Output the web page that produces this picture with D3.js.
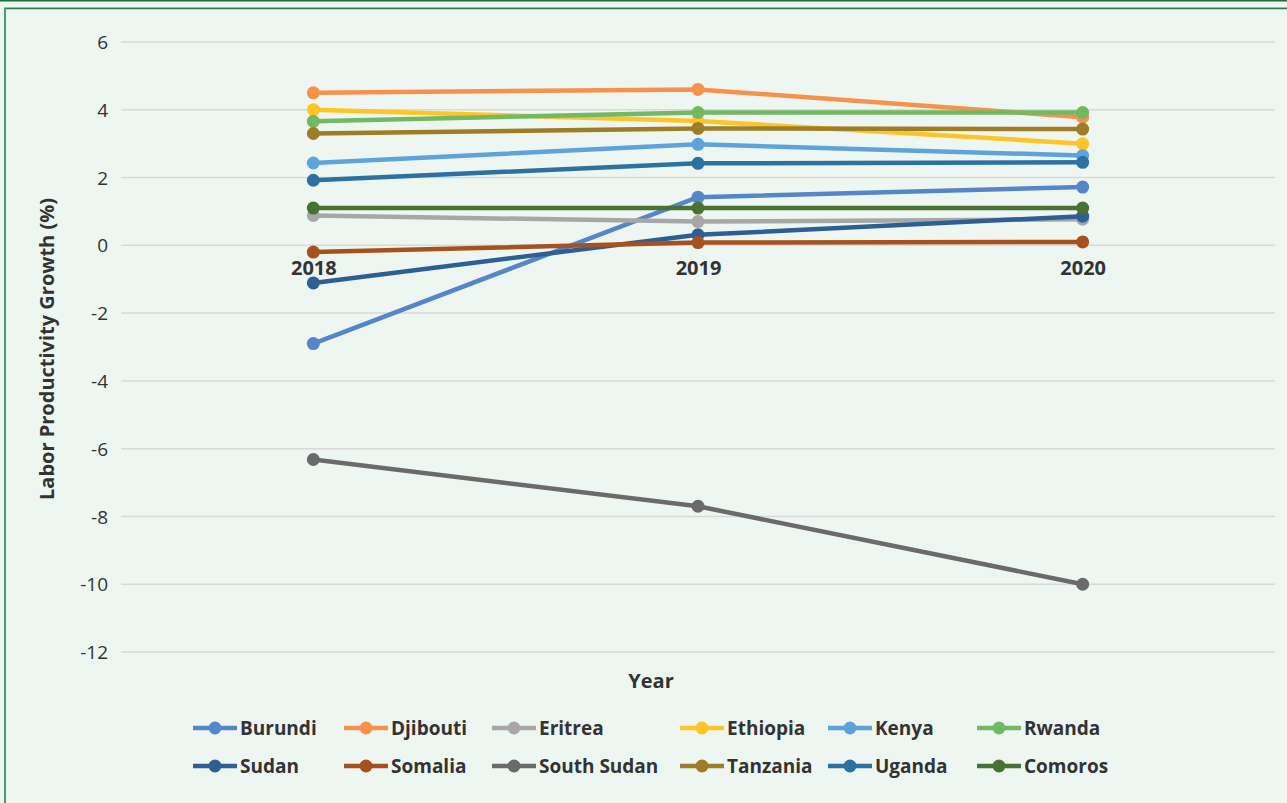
<!DOCTYPE html>
<html>
<head>
<meta charset="utf-8">
<script src="https://cdn.jsdelivr.net/npm/d3@7"></script>
<style>
  html, body { margin: 0; padding: 0; background: #EEF6F1; }
  svg { display: block; }
</style>
</head>
<body>
<svg id="chart" width="1287" height="803"></svg>
<script>
const years = ["2018", "2019", "2020"];
const countries = ["Burundi", "Djibouti", "Eritrea", "Ethiopia", "Kenya", "Rwanda",
                   "Sudan", "Somalia", "South Sudan", "Tanzania", "Uganda", "Comoros"];
const burundi    = [-2.9, 1.42, 1.72];
const djibouti   = [4.5, 4.6, 3.78];
const eritrea    = [0.88, 0.7, 0.77];
const ethiopia   = [4.0, 3.67, 3.0];
const kenya      = [2.43, 2.98, 2.65];
const rwanda     = [3.66, 3.92, 3.92];
const sudan      = [-1.11, 0.31, 0.86];
const somalia    = [-0.2, 0.08, 0.1];
const southSudan = [-6.32, -7.7, -10.0];
const tanzania   = [3.3, 3.45, 3.43];
const uganda     = [1.92, 2.42, 2.45];
const comoros    = [1.1, 1.1, 1.1];
const yTicks = [-12, -10, -8, -6, -4, -2, 0, 2, 4, 6];
const colors = ["#5586C9", "#F7924C", "#A7A7A7", "#FFC425", "#5FA3DB", "#73B862",
                "#2D5F95", "#A5521F", "#6A6A6A", "#9D7D25", "#2B72A3", "#477234"];

const seriesValues = [burundi, djibouti, eritrea, ethiopia, kenya, rwanda,
                      sudan, somalia, southSudan, tanzania, uganda, comoros];
const series = countries.map((name, i) => ({ name, color: colors[i], values: seriesValues[i] }));

const svg = d3.select("#chart");
const font = "'Open Sans', 'Noto Sans', sans-serif";
const textColor = "#333333";

// frame
svg.append("rect").attr("x", 0).attr("y", 0).attr("width", 1287).attr("height", 803).attr("fill", "#EEF6F1");
svg.append("line").attr("x1", 0).attr("x2", 1287).attr("y1", 0.5).attr("y2", 0.5).attr("stroke", "#1E6B3E").attr("stroke-width", 2);
svg.append("line").attr("x1", 4).attr("x2", 1287).attr("y1", 7.5).attr("y2", 7.5).attr("stroke", "#BFD3C6").attr("stroke-width", 1);
svg.append("line").attr("x1", 4).attr("x2", 1287).attr("y1", 8.5).attr("y2", 8.5).attr("stroke", "#2E7D4C").attr("stroke-width", 1.5);
svg.append("line").attr("x1", 5).attr("x2", 5).attr("y1", 8).attr("y2", 803).attr("stroke", "#4E9A6E").attr("stroke-width", 2);

const x = d3.scalePoint().domain(years).range([121, 1275]).padding(0.5);
const y = d3.scaleLinear().domain([-12, 6]).range([652, 42]);

// gridlines
svg.append("g").selectAll("line").data(yTicks).join("line")
  .attr("x1", 121).attr("x2", 1275)
  .attr("y1", d => y(d)).attr("y2", d => y(d))
  .attr("stroke", "#D9D9D9").attr("stroke-width", 1.5);

// y axis labels
const yAxis = d3.axisLeft(y).tickValues(yTicks).tickSize(0).tickPadding(0).tickFormat(d => String(d));
const yg = svg.append("g").attr("transform", "translate(108,0)").call(yAxis);
yg.select(".domain").remove();
yg.selectAll("text").attr("font-family", font).attr("font-size", 19).attr("fill", textColor).attr("dy", "0.35em");

// x axis labels at zero line
const xAxis = d3.axisBottom(x).tickSize(0).tickPadding(0);
const xg = svg.append("g").attr("transform", `translate(0,${y(0)})`).call(xAxis);
xg.select(".domain").remove();
xg.selectAll("text").attr("font-family", font).attr("font-size", 20).attr("font-weight", "bold")
  .attr("fill", textColor).attr("dy", null).attr("y", 30);

// lines and markers
const line = d3.line().x((d, i) => x(years[i])).y(d => y(d));
const gs = svg.append("g").selectAll("g").data(series).join("g");
gs.append("path").attr("d", d => line(d.values)).attr("fill", "none")
  .attr("stroke", d => d.color).attr("stroke-width", 4.5).attr("stroke-linejoin", "round");
gs.selectAll("circle").data(d => d.values.map((v, i) => ({ v, i, color: d.color }))).join("circle")
  .attr("cx", d => x(years[d.i])).attr("cy", d => y(d.v)).attr("r", 6.5).attr("fill", d => d.color);

// axis titles
svg.append("text").attr("transform", `translate(54,${349}) rotate(-90)`)
  .attr("text-anchor", "middle").attr("font-family", font).attr("font-size", 20).attr("font-weight", "bold")
  .attr("fill", textColor).text("Labor Productivity Growth (%)");
svg.append("text").attr("x", 651).attr("y", 688).attr("text-anchor", "middle")
  .attr("font-family", font).attr("font-size", 20).attr("font-weight", "bold")
  .attr("fill", textColor).text("Year");

// legend
const colX = [193, 344, 492, 680, 828, 977];
const rowY = [728, 766];
const lg = svg.append("g").selectAll("g").data(series).join("g")
  .attr("transform", (d, i) => `translate(${colX[i % 6]},${rowY[Math.floor(i / 6)]})`);
lg.append("line").attr("x1", 0).attr("x2", 44).attr("y1", 0).attr("y2", 0)
  .attr("stroke", d => d.color).attr("stroke-width", 4.5);
lg.append("circle").attr("cx", 22).attr("cy", 0).attr("r", 6.5).attr("fill", d => d.color);
lg.append("text").attr("x", 47).attr("y", 0).attr("dy", "0.35em")
  .attr("font-family", font).attr("font-size", 19).attr("font-weight", "bold")
  .attr("fill", textColor).text(d => d.name);
</script>
</body>
</html>
